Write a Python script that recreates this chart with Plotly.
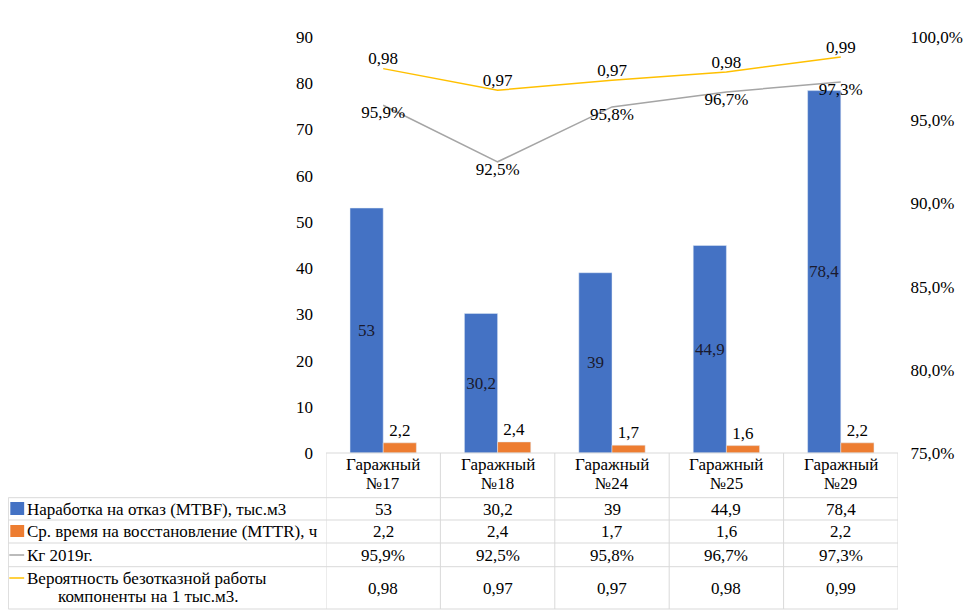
import plotly.graph_objects as go

# ---------------- data ----------------
categories = ["Гаражный №17", "Гаражный №18", "Гаражный №24", "Гаражный №25", "Гаражный №29"]
cat_line1 = ["Гаражный", "Гаражный", "Гаражный", "Гаражный", "Гаражный"]
cat_line2 = ["№17", "№18", "№24", "№25", "№29"]
mtbf = [53, 30.2, 39, 44.9, 78.4]
mttr = [2.2, 2.4, 1.7, 1.6, 2.2]
kg_2019 = [0.959, 0.925, 0.958, 0.967, 0.973]
prob = [0.981, 0.968, 0.974, 0.979, 0.988]

series_names = [
    "Наработка на отказ (MTBF), тыс.м3",
    "Ср. время на восстановление (MTTR), ч",
    "Кг 2019г.",
    "Вероятность безотказной работы",
]
series_name_line2 = "компоненты на 1 тыс.м3."

C_BLUE = "#4472C4"
C_ORANGE = "#ED7D31"
C_GRAY = "#A5A5A5"
C_YELLOW = "#FFC000"
GRID = "#D9D9D9"
FONT = "Liberation Serif"
FS = 17


def num(v):
    return f"{v:g}".replace(".", ",")


def pct(v):
    return f"{v*100:.1f}%".replace(".", ",")


def dec2(v):
    return f"{v:.2f}".replace(".", ",")


# ---------------- geometry (screen pixels; page body has an 8px margin) ----------------
OFF = 8
W, H = 975 - OFF, 613 - OFF
PL, PR, PT, PB = 326, 904, 37, 453


def px(x):
    return (x - PL) / (PR - PL)


def py(y):
    return (PB - y) / (PB - PT)


fig = go.Figure()

fig.add_trace(go.Bar(
    x=categories, y=mtbf, name=series_names[0], marker_color=C_BLUE,
    text=[num(v) for v in mtbf], textposition="inside", insidetextanchor="middle",
    textangle=0, constraintext="none",
    textfont=dict(family=FONT, size=FS, color="#1a1a2e"),
))
fig.add_trace(go.Bar(
    x=categories, y=mttr, name=series_names[1], marker_color=C_ORANGE,
    text=[num(v) for v in mttr], textposition="outside", textangle=0,
    constraintext="none", cliponaxis=False,
    textfont=dict(family=FONT, size=FS, color="black"),
))
fig.add_trace(go.Scatter(
    x=categories, y=kg_2019, name=series_names[2], yaxis="y2", mode="lines+text",
    line=dict(color=C_GRAY, width=1.5),
    text=[pct(v) for v in kg_2019], textposition="bottom center",
    textfont=dict(family=FONT, size=FS, color="black"), cliponaxis=False,
))
fig.add_trace(go.Scatter(
    x=categories, y=prob, name=series_names[3], yaxis="y2", mode="lines+text",
    line=dict(color=C_YELLOW, width=1.5),
    text=[dec2(v) for v in prob], textposition="top center",
    textfont=dict(family=FONT, size=FS, color="black"), cliponaxis=False,
))

shapes = []
annotations = []

# grid of the data table
row_lines = [497.7, 520, 543, 566.7, 609]
shapes.append(dict(type="line", xref="paper", yref="paper", x0=0, x1=1,
                   y0=py(PB), y1=py(PB), line=dict(color=GRID, width=1)))
for yl in row_lines:
    shapes.append(dict(type="line", xref="paper", yref="paper", x0=px(5), x1=1,
                       y0=py(yl), y1=py(yl), line=dict(color=GRID, width=1)))
for i in range(len(categories) + 1):
    shapes.append(dict(type="line", xref="x", yref="paper", x0=i - 0.5, x1=i - 0.5,
                       y0=py(PB), y1=py(609), line=dict(color=GRID, width=1)))
shapes.append(dict(type="line", xref="paper", yref="paper", x0=px(5), x1=px(5),
                   y0=py(497.7), y1=py(609), line=dict(color=GRID, width=1)))

# legend keys
shapes.append(dict(type="rect", xref="paper", yref="paper", x0=px(7), x1=px(21),
                   y0=py(515), y1=py(502), fillcolor=C_BLUE, line=dict(width=0)))
shapes.append(dict(type="rect", xref="paper", yref="paper", x0=px(7), x1=px(21),
                   y0=py(537), y1=py(525), fillcolor=C_ORANGE, line=dict(width=0)))
shapes.append(dict(type="line", xref="paper", yref="paper", x0=px(6), x1=px(21),
                   y0=py(555), y1=py(555), line=dict(color=C_GRAY, width=1.5)))
shapes.append(dict(type="line", xref="paper", yref="paper", x0=px(6), x1=px(21),
                   y0=py(578), y1=py(578), line=dict(color=C_YELLOW, width=1.5)))


def ann(text, x, y, xref="paper", xanchor="center", size=FS):
    annotations.append(dict(text=text, x=x, y=y, xref=xref, yref="paper",
                            xanchor=xanchor, yanchor="middle", showarrow=False,
                            font=dict(family=FONT, size=size, color="black")))


# header row (categories)
for c, l1, l2 in zip(categories, cat_line1, cat_line2):
    ann(l1, c, py(465), xref="x")
    ann(l2, c, py(483), xref="x")

# row labels
ann(series_names[0], px(22), py(509), xanchor="left")
ann(series_names[1], px(22), py(531.5), xanchor="left")
ann(series_names[2], px(22), py(555), xanchor="left")
ann(series_names[3], px(22), py(578), xanchor="left")
ann(series_name_line2, px(147), py(596))

# row values
rows = [
    ([num(v) for v in mtbf], 509),
    ([num(v) for v in mttr], 531.5),
    ([pct(v) for v in kg_2019], 555),
    ([dec2(v) for v in prob], 588),
]
for texts, yc in rows:
    for c, t in zip(categories, texts):
        ann(t, c, py(yc), xref="x")

fig.update_layout(
    width=W, height=H,
    margin=dict(l=PL - OFF, r=975 - PR, t=PT - OFF, b=613 - PB, pad=0),
    paper_bgcolor="white", plot_bgcolor="white",
    separators=", ",
    showlegend=False,
    barmode="group", bargap=0.42, bargroupgap=0,
    font=dict(family=FONT, size=FS, color="black"),
    xaxis=dict(type="category", showticklabels=False, showgrid=False, zeroline=False,
               showline=False, ticks="", range=[-0.5, 4.5]),
    yaxis=dict(range=[0, 90], dtick=10, showgrid=False, zeroline=False, showline=False,
               ticks="", ticklabelstandoff=12,
               tickfont=dict(family=FONT, size=FS, color="black")),
    yaxis2=dict(range=[0.75, 1.0], dtick=0.05, tickformat=".1%", overlaying="y",
                side="right", showgrid=False, zeroline=False, showline=False,
                ticks="outside", ticklen=8, tickcolor="rgba(0,0,0,0)",
                tickfont=dict(family=FONT, size=FS, color="black")),
    shapes=shapes,
    annotations=annotations,
)

fig.write_html("out.html")
